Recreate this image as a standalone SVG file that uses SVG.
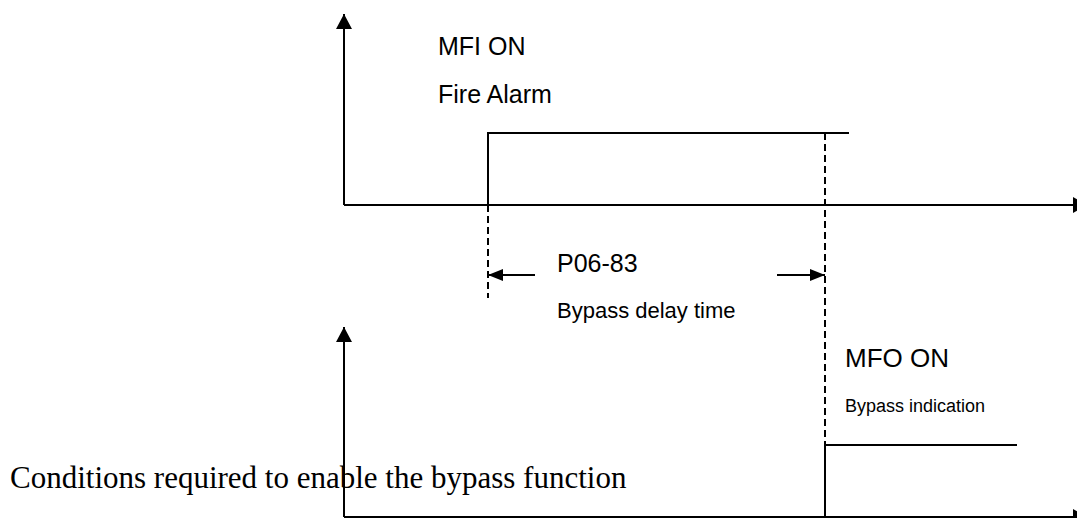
<svg xmlns="http://www.w3.org/2000/svg" width="1077" height="518" viewBox="0 0 1077 518">
<style>
.ln{stroke:#000;stroke-width:2;fill:none}
.ds{stroke:#000;stroke-width:2;fill:none;stroke-dasharray:7 4}
.t{font-family:"Liberation Sans",Arial,sans-serif;fill:#000}
.s{font-family:"Liberation Serif","Times New Roman",serif;fill:#000}
</style>
<defs>
<marker id="ah" viewBox="0 0 15 16" refX="15" refY="8" markerWidth="15" markerHeight="16" markerUnits="userSpaceOnUse" orient="auto"><path d="M0,0 L15,8 L0,16 Z" fill="#000"/></marker>
<marker id="sa" viewBox="0 0 15 12" refX="15" refY="6" markerWidth="15" markerHeight="12" markerUnits="userSpaceOnUse" orient="auto"><path d="M0,0 L15,6 L0,12 Z" fill="#000"/></marker>
</defs>
<g id="top-chart">
<path class="ln" d="M344,205 L344,14" marker-end="url(#ah)"/>
<path class="ln" d="M344,205 L1088,205" marker-end="url(#ah)"/>
<path class="ln" d="M488,205 L488,133 L849,133"/>
<text class="t" x="438" y="55" font-size="25">MFI ON</text>
<text class="t" x="438" y="103" font-size="25">Fire Alarm</text>
</g>
<g id="bottom-chart">
<path class="ln" d="M344,517 L344,327" marker-end="url(#ah)"/>
<path class="ln" d="M344,517 L1088,517" marker-end="url(#ah)"/>
<path class="ln" d="M825,517 L825,445 L1017,445"/>
<text class="t" x="845" y="367" font-size="26">MFO ON</text>
<text class="t" x="845" y="412" font-size="18">Bypass indication</text>
</g>
<g id="connectors">
<path class="ds" d="M488,205 L488,298"/>
<path class="ds" d="M825,133 L825,445"/>
<path class="ln" d="M535,275 L488,275" marker-end="url(#sa)"/>
<path class="ln" d="M777,275 L825,275" marker-end="url(#sa)"/>
</g>
<g id="delay-label">
<text class="t" x="557" y="272" font-size="25">P06-83</text>
<text class="t" x="557" y="318" font-size="22">Bypass delay time</text>
</g>
<text class="s" x="10" y="488" font-size="31">Conditions required to enable the bypass function</text>
</svg>
